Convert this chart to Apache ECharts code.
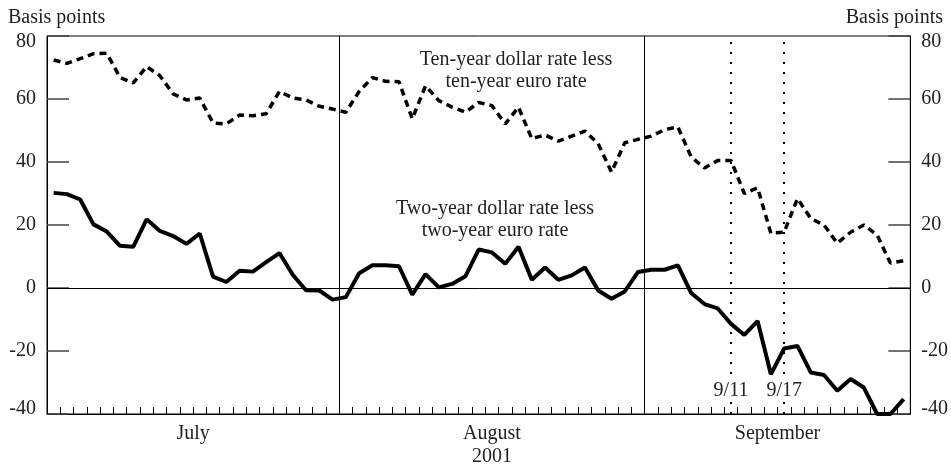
<!DOCTYPE html>
<html>
<head>
<meta charset="utf-8">
<script src="https://cdn.jsdelivr.net/npm/echarts@6/dist/echarts.min.js"></script>
<style>
  html, body { margin: 0; padding: 0; background: #fff; }
  #chart { width: 951px; height: 468px; }
</style>
</head>
<body>
<div id="chart"></div>
<script>
// business days, July - September 2001
const julyDays = ['7/2', '7/3', '7/4', '7/5', '7/6', '7/9', '7/10', '7/11', '7/12', '7/13', '7/16', '7/17', '7/18', '7/19', '7/20', '7/23', '7/24', '7/25', '7/26', '7/27', '7/30', '7/31']
const augDays = ['8/1', '8/2', '8/3', '8/6', '8/7', '8/8', '8/9', '8/10', '8/13', '8/14', '8/15', '8/16', '8/17', '8/20', '8/21', '8/22', '8/23', '8/24', '8/27', '8/28', '8/29', '8/30', '8/31']
const sepDays = ['9/3', '9/4', '9/5', '9/6', '9/7', '9/10', '9/11', '9/12', '9/13', '9/14', '9/17', '9/18', '9/19', '9/20', '9/21', '9/24', '9/25', '9/26', '9/27', '9/28']
const days = julyDays.concat(augDays, sepDays)
const monthNames = ['July', 'August', 'September']
const yearLabel = '2001'
const eventDays = ['9/11', '9/17']

// ten-year dollar rate less ten-year euro rate (basis points)
const tenYear = [72.4, 71.3, 72.8, 74.4, 74.5, 66.8, 65.1, 70.3, 67.4, 61.6,
  59.7, 60.3, 52.4, 52.1, 54.9, 54.7, 55.3, 62.4, 60.3, 59.7,
  57.7, 56.8, 55.8, 62.4, 66.8, 65.6, 65.5, 53.7, 64.2, 59.5,
  57.4, 55.8, 58.9, 57.9, 52.1, 57.4, 47.4, 48.6, 46.6, 48.2,
  49.8, 45.8, 36.8, 46.1, 47.2, 48.2, 50.3, 51.1, 41.6, 38.1,
  40.5, 40.5, 30.0, 31.8, 17.4, 17.7, 28.4, 22.1, 20.0, 14.2,
  17.7, 20.0, 16.8, 7.9, 8.7]
// two-year dollar rate less two-year euro rate (basis points)
const twoYear = [30.2, 29.8, 28.1, 20.2, 17.9, 13.4, 13.1, 21.8, 18.1, 16.5,
  14.0, 17.3, 3.6, 1.9, 5.5, 5.2, 8.2, 11.1, 4.2, -0.7,
  -0.8, -3.7, -2.9, 4.7, 7.2, 7.2, 6.9, -2.1, 4.4, 0.2,
  1.3, 3.7, 12.2, 11.3, 7.7, 13.1, 2.6, 6.5, 2.6, 4.0,
  6.5, -0.8, -3.4, -1.1, 5.1, 5.8, 5.8, 7.2, -1.6, -5.1,
  -6.5, -11.4, -14.9, -10.5, -27.4, -19.2, -18.4, -26.8, -27.6, -32.6,
  -28.9, -31.6, -40, -40, -35.3]

const yMin = -40
const yMax = 80
const yStep = 20

const font = 'Liberation Serif'
const textColor = '#222'

// month boundaries and month mid-points (in day units)
const monthLens = [julyDays.length, augDays.length, sepDays.length]
const monthStarts = [0, monthLens[0], monthLens[0] + monthLens[1]]
const monthMids = monthStarts.map((s, i) => s + monthLens[i] / 2)

const chart = echarts.init(document.getElementById('chart'))

function yAxisCfg(pos) {
  const txt = { fontSize: 20, color: textColor, fontFamily: font }
  return {
    type: 'value',
    position: pos,
    min: yMin,
    max: yMax,
    interval: yStep,
    axisLine: { show: true, lineStyle: { color: '#000', width: 1 } },
    axisTick: { show: true, inside: true, length: 22, lineStyle: { color: '#444', width: 1.5 } },
    axisLabel: {
      margin: 11,
      ...txt,
      // end labels sit a little inside the frame
      formatter(v) {
        if (v === yMax) return '{hi|' + v + '}'
        if (v === yMin) return '{lo|' + v + '}'
        return String(v)
      },
      rich: {
        hi: { ...txt, padding: [12, 0, 0, 0] },
        lo: { ...txt, padding: [0, 0, 11, 0] }
      }
    },
    splitLine: { show: false }
  }
}

const option = {
  animation: false,
  grid: {
    left: 47,
    right: 40,
    top: 36,
    bottom: 51,
    show: true,
    borderColor: '#000',
    borderWidth: 1
  },
  xAxis: [
    {
      type: 'category',
      data: days,
      boundaryGap: true,
      axisLine: { onZero: false, lineStyle: { color: '#000', width: 1 } },
      axisTick: { show: true, inside: true, length: 7, interval: 0, lineStyle: { color: '#000', width: 1 } },
      axisLabel: { show: false },
      // vertical lines between the months
      splitLine: {
        show: true,
        interval: (idx) => idx === monthStarts[1] || idx === monthStarts[2],
        lineStyle: { color: '#000', width: 1 }
      }
    },
    {
      type: 'value',
      position: 'bottom',
      min: 0,
      max: days.length,
      axisLine: { show: false, onZero: false },
      axisTick: { show: false },
      splitLine: { show: false },
      axisLabel: {
        customValues: monthMids,
        margin: 8,
        fontSize: 20,
        lineHeight: 23,
        color: textColor,
        fontFamily: font,
        formatter(v) {
          const i = monthMids.indexOf(v)
          if (i === 1) return monthNames[i] + '\n' + yearLabel
          return i >= 0 ? monthNames[i] : ''
        }
      }
    }
  ],
  yAxis: [yAxisCfg('left'), yAxisCfg('right')],
  graphic: [
    { type: 'text', x: 8, y: 18, style: { text: 'Basis points', fill: textColor, font: '20px "Liberation Serif"', align: 'left', verticalAlign: 'middle' } },
    { type: 'text', x: 943, y: 18, style: { text: 'Basis points', fill: textColor, font: '20px "Liberation Serif"', align: 'right', verticalAlign: 'middle' } },
    { type: 'text', x: 516, y: 60, style: { text: 'Ten-year dollar rate less', fill: textColor, font: '20px "Liberation Serif"', align: 'center', verticalAlign: 'middle' } },
    { type: 'text', x: 516, y: 82, style: { text: 'ten-year euro rate', fill: textColor, font: '20px "Liberation Serif"', align: 'center', verticalAlign: 'middle' } },
    { type: 'text', x: 495, y: 209, style: { text: 'Two-year dollar rate less', fill: textColor, font: '20px "Liberation Serif"', align: 'center', verticalAlign: 'middle' } },
    { type: 'text', x: 495, y: 231, style: { text: 'two-year euro rate', fill: textColor, font: '20px "Liberation Serif"', align: 'center', verticalAlign: 'middle' } }
  ],
  series: [
    {
      name: 'Ten-year dollar rate less ten-year euro rate',
      type: 'line',
      data: tenYear,
      symbol: 'none',
      z: 3,
      lineStyle: { color: '#000', width: 3.5, type: [7, 5] }
    },
    {
      name: 'Two-year dollar rate less two-year euro rate',
      type: 'line',
      data: twoYear,
      symbol: 'none',
      z: 4,
      lineStyle: { color: '#000', width: 4 },
      markLine: {
        silent: true,
        symbol: ['none', 'none'],
        label: { show: false },
        data: [
          { yAxis: 0, lineStyle: { color: '#000', width: 1, type: 'solid' } },
          { xAxis: eventDays[0], lineStyle: { color: '#000', width: 2, type: [2, 8] } },
          { xAxis: eventDays[1], lineStyle: { color: '#000', width: 2, type: [2, 8] } }
        ]
      },
      markPoint: {
        silent: true,
        symbol: 'rect',
        symbolSize: [38, 18],
        itemStyle: { color: '#fff' },
        label: { show: true, position: 'inside', color: textColor, fontSize: 20, fontFamily: font, formatter: '{b}' },
        data: eventDays.map(d => ({ name: d, coord: [d, -32.5] }))
      }
    }
  ]
}

chart.setOption(option)
</script>
</body>
</html>
